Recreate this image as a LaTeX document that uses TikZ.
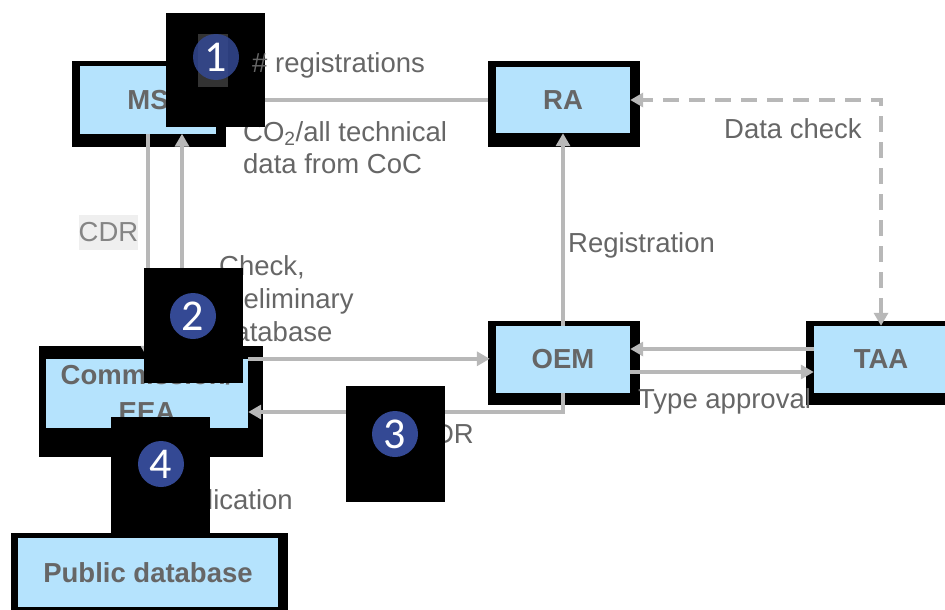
\documentclass[tikz,border=0pt]{standalone}
\usepackage{fontspec}
\setmainfont{Liberation Sans}
\newfontfamily\digitfont{Carlito}
\usetikzlibrary{arrows.meta}
\definecolor{boxblue}{HTML}{B5E3FD}
\definecolor{txtgray}{HTML}{666666}
\definecolor{linegray}{HTML}{B8B8B8}
\definecolor{numblue}{HTML}{344994}
\definecolor{cdrbg}{HTML}{EFEFEF}
\newcommand{\bigtxt}{\fontsize{27.5}{32}\selectfont}
\tikzstyle{unit}=[rectangle, fill=boxblue, text=txtgray, font=\bigtxt\bfseries, inner sep=0pt]
\tikzstyle{mask}=[fill=black]
\tikzstyle{num}=[circle, fill=numblue, text=white, minimum size=46pt, inner sep=0pt, font=\digitfont\fontsize{44}{44}\selectfont]
\tikzstyle{arrow}=[draw=linegray, line width=4pt, -{Triangle[length=13pt, width=14pt]}]
\tikzstyle{lbl}=[text=txtgray, inner sep=0pt, font=\bigtxt]

\begin{document}
\begin{tikzpicture}[x=1pt, y=-1pt]
	\useasboundingbox (0,0) rectangle (945,610);
	\begin{scope}
		% black frames behind the boxes
		\foreach \xa/\ya/\xb/\yb in {72/61/226/147, 488/61/640/147, 488/321/640/405,
			806/321/950/405, 39/346/263/457, 11/533/288/615}
			\fill (\xa,\ya) rectangle (\xb,\yb);
	\end{scope}
	\begin{scope}
		\node (ms) at (148, 100)[unit, minimum width=136pt, minimum height=67pt] {MS};
		\node (ra) at (563, 100)[unit, minimum width=134pt, minimum height=66pt] {RA};
		\node (oem) at (563, 359.5)[unit, minimum width=134pt, minimum height=67pt] {OEM};
		\node (taa) at (881, 359.5)[unit, minimum width=134pt, minimum height=67pt] {TAA};
		\node (comm) at (147, 393.5)[unit, minimum width=202pt, minimum height=69pt,
			align=center, font=\fontsize{27.5}{37}\selectfont\bfseries] {Commission/\\EEA};
		\node (pub) at (148, 572.5)[unit, minimum width=260pt, minimum height=69pt] {Public database};
	\end{scope}
	\begin{scope}
		\draw [arrow] ([xshift=-8pt]ra.west) -- (ms.east);
		\draw [arrow] (ms.south) -- (ms.south |- comm.north);
		\draw [arrow] ([xshift=35pt]comm.north) -- ([xshift=34pt]ms.south);
		\draw [arrow] (comm.north east) -- ([xshift=-6pt]comm.north east -| oem.west);
		\draw [arrow] (oem.south) |- ([yshift=-18.5pt]comm.east);
		\draw [arrow] (oem.north) -- (ra.south);
		\draw [arrow, {Triangle[length=13pt, width=14pt]}-{Triangle[length=13pt, width=14pt]},
			dash pattern=on 16pt off 10pt] (taa.north) |- (ra.east);
		\draw [arrow] ([yshift=10.5pt]taa.west) -- ([yshift=10.5pt]taa.west -| oem.east);
		\draw [arrow] ([yshift=-12.5pt]oem.east) -- ([yshift=-12.5pt]oem.east -| taa.west);
	\end{scope}
	\begin{scope}
		\node (lco) at (243, 121)[lbl, anchor=north west, align=left] {CO\textsubscript{2}/all technical\\data from CoC};
		\node (lcdr) at (108.5, 232.5)[lbl, fill=cdrbg, text=txtgray!80, minimum width=57pt, minimum height=35pt] {CDR};
		\node (lcheck) at (219, 255)[lbl, anchor=north west, align=left, font=\fontsize{27.5}{33}\selectfont] {Check,\\preliminary\\database};
		\node (lregistration) at (568, 252)[lbl, anchor=base west] {Registration};
		\node (ldata) at (724, 138)[lbl, anchor=base west] {Data check};
		\node (ltype) at (638, 408)[lbl, anchor=base west] {Type approval};
		\node (lcdrtwo) at (414, 443)[lbl, anchor=base west] {CDR};
		\node (lpub) at (293, 509)[lbl, anchor=base east] {Publication};
	\end{scope}
	\begin{scope}
		% masks with numbers
		\fill [mask] (166, 13) rectangle (265, 127);
		\fill [black!80] (198, 34) rectangle (228, 87);
		\node (n1) at (216, 57)[num, fill opacity=0.85, text opacity=1] {1};
		\node (lreg) at (252, 73)[lbl, anchor=base west] {\# registrations};
		\fill [mask] (144, 268) rectangle (243, 383);
		\node (n2) at (193, 316)[num] {2};
		\fill [mask] (346, 386) rectangle (445, 502);
		\node (n3) at (395, 434)[num] {3};
		\fill [mask] (111, 417) rectangle (210, 533);
		\node (n4) at (161, 464)[num] {4};
	\end{scope}
\end{tikzpicture}
\end{document}
